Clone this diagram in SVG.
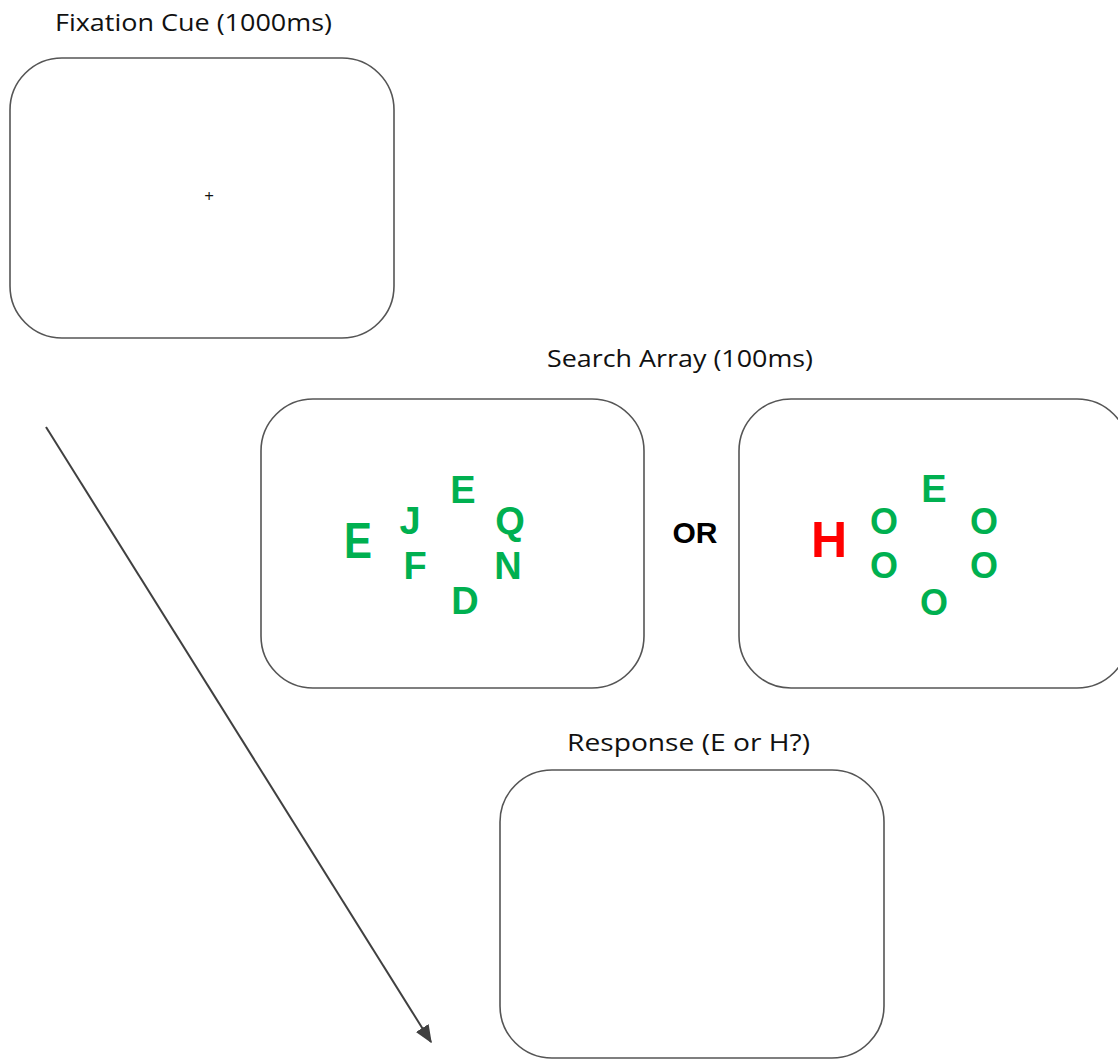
<svg xmlns="http://www.w3.org/2000/svg" width="1118" height="1060" viewBox="0 0 1118 1060">
<style>
.box{fill:#fff;stroke:#555;stroke-width:1.6}
.title{font-family:"Open Sans","Liberation Sans",sans-serif;font-size:23px;fill:#111}
.g{font-family:"Liberation Sans","Open Sans",sans-serif;font-weight:bold;fill:#00B050;text-anchor:middle}
.conn{stroke:#404040;stroke-width:2;fill:none}
</style>
<defs>
<marker id="ah2" viewBox="0 0 12 12" refX="11" refY="6" markerWidth="18" markerHeight="18" orient="auto" markerUnits="userSpaceOnUse">
<path d="M0,1 L12,6 L0,11 z" fill="#404040"/>
</marker>
</defs>
<rect width="1118" height="1060" fill="#fff"/>
<g id="fixation">
<text class="title" x="55" y="31" textLength="277" lengthAdjust="spacingAndGlyphs">Fixation Cue (1000ms)</text>
<rect class="box" x="10" y="58" width="384" height="280" rx="52"/>
<text x="209" y="202" font-family="Open Sans, sans-serif" font-size="17" text-anchor="middle" fill="#111">+</text>
</g>
<g id="search-title">
<text class="title" x="547" y="367" textLength="266" lengthAdjust="spacingAndGlyphs">Search Array (100ms)</text>
</g>
<g id="search-left">
<rect class="box" x="261" y="399" width="383" height="289" rx="52"/>
<text class="g" x="358" y="558" font-size="50" textLength="28" lengthAdjust="spacingAndGlyphs">E</text>
<text class="g" x="410" y="534" font-size="38">J</text>
<text class="g" x="463" y="503" font-size="38">E</text>
<text class="g" x="510" y="534" font-size="38">Q</text>
<text class="g" x="415" y="579" font-size="38">F</text>
<text class="g" x="508" y="579" font-size="38">N</text>
<text class="g" x="465" y="614" font-size="38">D</text>
</g>
<g id="or">
<text x="695" y="543" font-family="Liberation Sans, sans-serif" font-weight="bold" font-size="30" text-anchor="middle" fill="#000">OR</text>
</g>
<g id="search-right">
<rect class="box" x="739" y="399" width="390" height="289" rx="52"/>
<text x="829" y="557" font-family="Liberation Sans, sans-serif" font-weight="bold" font-size="50" text-anchor="middle" fill="#FF0000">H</text>
<text class="g" x="934" y="502" font-size="38">E</text>
<text class="g" x="884" y="534" font-size="36">O</text>
<text class="g" x="884" y="578" font-size="36">O</text>
<text class="g" x="984" y="534" font-size="36">O</text>
<text class="g" x="984" y="578" font-size="36">O</text>
<text class="g" x="934" y="615" font-size="36">O</text>
</g>
<g id="response">
<text class="title" x="567" y="751" textLength="243" lengthAdjust="spacingAndGlyphs">Response (E or H?)</text>
<rect class="box" x="500" y="770" width="384" height="288" rx="52"/>
</g>
<g id="connectors">
<line class="conn" x1="46" y1="427" x2="431" y2="1042" marker-end="url(#ah2)"/>
</g>
</svg>
